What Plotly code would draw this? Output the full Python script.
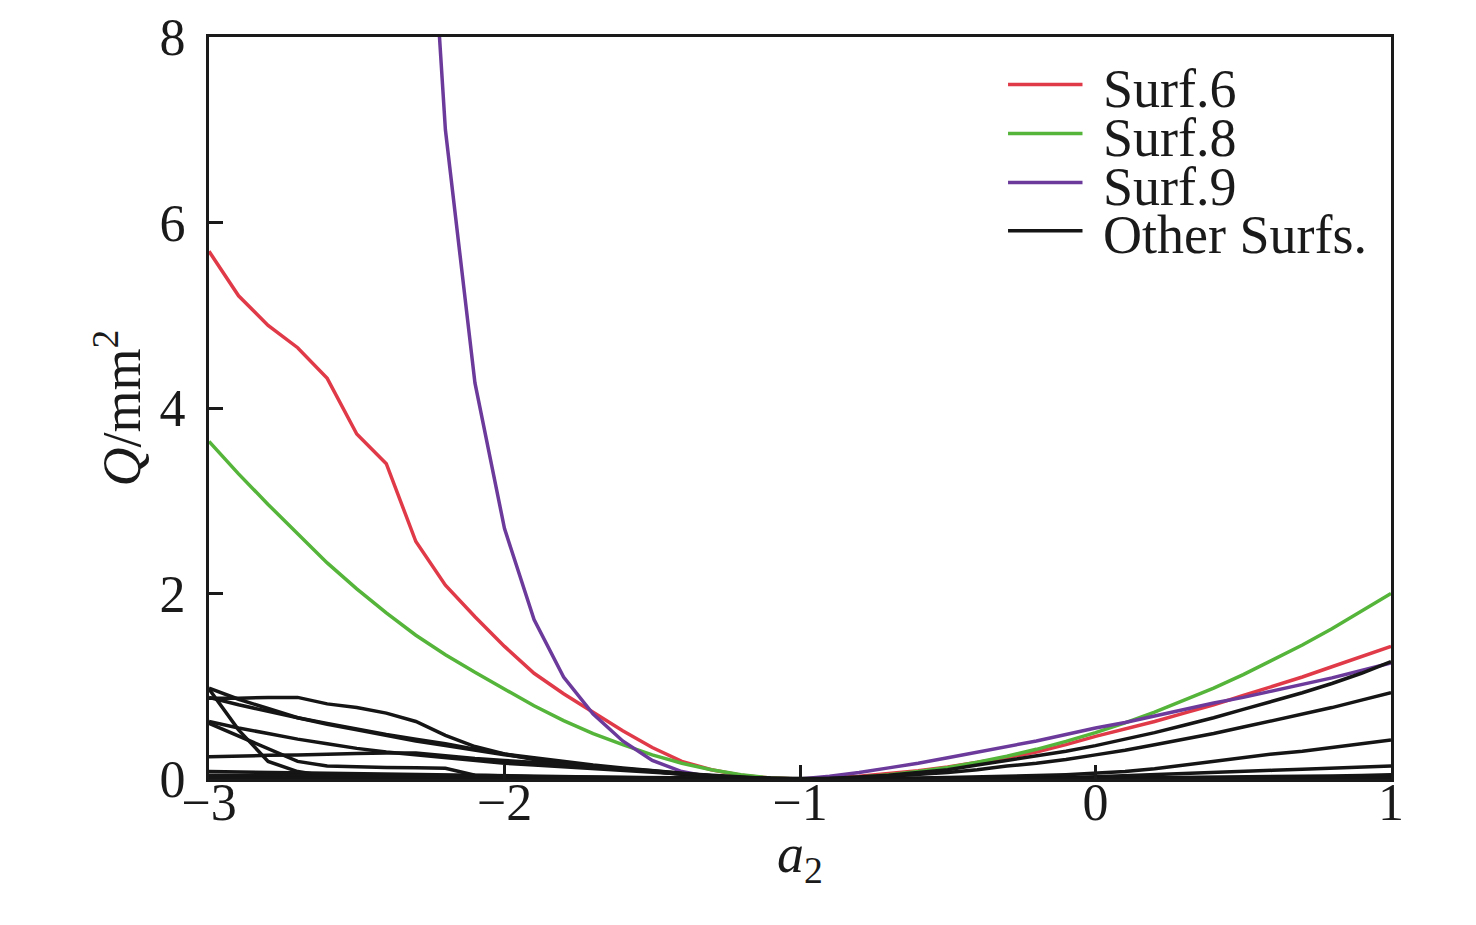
import numpy as np
import plotly.graph_objects as go

# a2 grid, step 0.1 from -3 to 1
a2 = np.round(np.linspace(-3, 1, 41), 1)

surf6 = [5.69, 5.21, 4.89, 4.65, 4.32, 3.72, 3.40, 2.56, 2.09, 1.75,
         1.43, 1.14, 0.92, 0.72, 0.52, 0.34, 0.19, 0.10, 0.04, 0.01,
         0.00, 0.01, 0.03, 0.06, 0.09, 0.13, 0.18, 0.23, 0.29, 0.37,
         0.46, 0.54, 0.62, 0.71, 0.80, 0.90, 1.00, 1.10, 1.21, 1.32, 1.43]
surf8 = [3.64, 3.29, 2.96, 2.64, 2.33, 2.05, 1.79, 1.55, 1.34, 1.15,
         0.97, 0.79, 0.63, 0.49, 0.37, 0.26, 0.17, 0.10, 0.045, 0.01,
         0.00, 0.005, 0.02, 0.045, 0.08, 0.125, 0.18, 0.245, 0.32, 0.405,
         0.50, 0.605, 0.72, 0.845, 0.98, 1.125, 1.28, 1.445, 1.62, 1.805, 2.00]
surf9 = [None, None, None, None, None, None, None, 12.0, 7.00, 4.27,
         2.70, 1.72, 1.10, 0.70, 0.41, 0.20, 0.08, 0.02, 0.005, 0.00,
         0.00, 0.03, 0.07, 0.12, 0.17, 0.23, 0.29, 0.35, 0.41, 0.48,
         0.55, 0.61, 0.68, 0.75, 0.82, 0.88, 0.95, 1.02, 1.09, 1.17, 1.25]

# other surfaces (black)
other = [
    [0.98, 0.86, 0.76, 0.66, 0.60, 0.54, 0.48, 0.43, 0.38, 0.32,
     0.27, 0.23, 0.19, 0.15, 0.12, 0.09, 0.06, 0.035, 0.015, 0.004,
     0.00, 0.005, 0.02, 0.04, 0.07, 0.10, 0.15, 0.20, 0.25, 0.30,
     0.36, 0.43, 0.50, 0.58, 0.66, 0.75, 0.84, 0.93, 1.03, 1.14, 1.265],
    [0.88, 0.80, 0.73, 0.66, 0.59, 0.53, 0.47, 0.41, 0.36, 0.31,
     0.26, 0.22, 0.18, 0.14, 0.11, 0.08, 0.055, 0.03, 0.013, 0.003,
     0.00, 0.003, 0.01, 0.03, 0.05, 0.07, 0.10, 0.14, 0.17, 0.21,
     0.26, 0.31, 0.37, 0.43, 0.49, 0.56, 0.63, 0.70, 0.77, 0.85, 0.93],
    [0.87, 0.87, 0.88, 0.88, 0.81, 0.77, 0.71, 0.62, 0.47, 0.35,
     0.27, 0.21, 0.17, 0.14, 0.11, 0.08, 0.05, 0.03, 0.015, 0.005,
     0.00, 0.001, 0.003, 0.006, 0.01, 0.015, 0.02, 0.028, 0.037, 0.047,
     0.06, 0.08, 0.11, 0.15, 0.19, 0.23, 0.27, 0.30, 0.34, 0.38, 0.42],
    [0.62, 0.55, 0.49, 0.43, 0.38, 0.33, 0.29, 0.26, 0.23, 0.20,
     0.17, 0.15, 0.13, 0.11, 0.09, 0.07, 0.05, 0.03, 0.015, 0.004,
     0.00, 0.00, 0.001, 0.002, 0.003, 0.004, 0.006, 0.008, 0.012, 0.017,
     0.025, 0.035, 0.045, 0.057, 0.07, 0.082, 0.094, 0.106, 0.118, 0.129, 0.14],
    [0.24, 0.25, 0.255, 0.26, 0.27, 0.275, 0.28, 0.28, 0.25, 0.22,
     0.20, 0.18, 0.16, 0.13, 0.11, 0.09, 0.06, 0.04, 0.02, 0.005,
     0.00, 0.00, 0.00, 0.001, 0.001, 0.002, 0.003, 0.004, 0.005, 0.006,
     0.008, 0.01, 0.012, 0.015, 0.018, 0.021, 0.025, 0.029, 0.033, 0.039, 0.045],
    [0.60, 0.46, 0.33, 0.19, 0.14, 0.13, 0.125, 0.12, 0.115, 0.04,
     0.03, 0.025, 0.02, 0.015, 0.01, 0.008, 0.005, 0.003, 0.001, 0.00,
     0.00, 0.00, 0.00, 0.00, 0.001, 0.001, 0.001, 0.002, 0.002, 0.003,
     0.004, 0.005, 0.006, 0.007, 0.008, 0.01, 0.011, 0.013, 0.015, 0.017, 0.02],
    [0.97, 0.53, 0.19, 0.08, 0.03, 0.02, 0.015, 0.01, 0.008, 0.006,
     0.005, 0.004, 0.003, 0.002, 0.001, 0.001, 0.00, 0.00, 0.00, 0.00,
     0.00, 0.00, 0.00, 0.00, 0.00, 0.00, 0.00, 0.00, 0.00, 0.001,
     0.001, 0.001, 0.002, 0.002, 0.003, 0.003, 0.004, 0.004, 0.005, 0.006, 0.007],
    [0.08, 0.075, 0.07, 0.065, 0.06, 0.055, 0.05, 0.045, 0.04, 0.035,
     0.03, 0.025, 0.02, 0.016, 0.012, 0.009, 0.006, 0.004, 0.002, 0.001,
     0.00, 0.00, 0.00, 0.00, 0.00, 0.00, 0.00, 0.00, 0.00, 0.00,
     0.00, 0.00, 0.00, 0.00, 0.00, 0.00, 0.00, 0.00, 0.00, 0.00, 0.00],
    [0.04, 0.038, 0.036, 0.034, 0.032, 0.03, 0.028, 0.026, 0.024, 0.022,
     0.02, 0.018, 0.016, 0.014, 0.012, 0.01, 0.008, 0.006, 0.004, 0.002,
     0.00, 0.00, 0.00, 0.00, 0.00, 0.00, 0.00, 0.00, 0.001, 0.001,
     0.002, 0.002, 0.003, 0.003, 0.004, 0.005, 0.006, 0.007, 0.008, 0.009, 0.01],
    [0.01, 0.01, 0.01, 0.009, 0.009, 0.008, 0.008, 0.007, 0.007, 0.006,
     0.006, 0.005, 0.005, 0.004, 0.004, 0.003, 0.003, 0.002, 0.001, 0.001,
     0.00, 0.00, 0.00, 0.00, 0.00, 0.00, 0.00, 0.00, 0.00, 0.00,
     0.00, 0.001, 0.001, 0.001, 0.001, 0.002, 0.002, 0.002, 0.003, 0.003, 0.003],
]

names = ["Surf.6", "Surf.8", "Surf.9", "Other Surfs."]
colors = ["#E03A48", "#55B43A", "#6B3A9B", "#151515"]

FONT = "Liberation Serif, Times New Roman, serif"

fig = go.Figure()
for ys, c in zip([surf6, surf8, surf9], colors[:3]):
    fig.add_trace(go.Scatter(x=a2, y=ys, mode="lines", showlegend=False,
                             line=dict(color=c, width=3.5)))
for ys in other:
    fig.add_trace(go.Scatter(x=a2, y=ys, mode="lines", showlegend=False,
                             line=dict(color=colors[3], width=3.5)))

# legend drawn by hand so the sample lines and row spacing match the figure
leg_y = [0.936, 0.870, 0.804, 0.739]
for name, c, yy in zip(names, colors, leg_y):
    fig.add_shape(type="line", xref="paper", yref="paper",
                  x0=0.676, x1=0.739, y0=yy, y1=yy,
                  line=dict(color=c, width=3.5))
    fig.add_annotation(xref="paper", yref="paper", x=0.755, y=yy - 0.006,
                       xanchor="left", yanchor="middle", showarrow=False,
                       text=name, font=dict(family=FONT, size=54, color="#1a1a1a"))

# x axis title placed as an annotation (plotly's title sits too low here)
fig.add_annotation(xref="paper", yref="paper", x=0.5, y=-0.106,
                   xanchor="center", yanchor="middle", showarrow=False,
                   text="<i>a</i><sub>2</sub>",
                   font=dict(family=FONT, size=54, color="#1a1a1a"))

axis_common = dict(showline=True, linewidth=3, linecolor="#1a1a1a", mirror=True,
                   ticks="inside", ticklen=14, tickwidth=3, tickcolor="#1a1a1a",
                   showgrid=False, zeroline=False, automargin=False,
                   tickfont=dict(family=FONT, size=52, color="#1a1a1a"))

fig.update_xaxes(range=[-3, 1], tickvals=[-3, -2, -1, 0, 1], ticklabelstandoff=-24,
                 **axis_common)
fig.update_yaxes(range=[0, 8], tickvals=[0, 2, 4, 6, 8], ticklabelstandoff=10,
                 title=dict(text="<i>Q</i>/mm<sup>2</sup>", standoff=2,
                            font=dict(family=FONT, size=54, color="#1a1a1a")),
                 **axis_common)

fig.update_layout(width=1476, height=925,
                  margin=dict(l=201, r=93, t=29, b=154),
                  plot_bgcolor="white", paper_bgcolor="white",
                  showlegend=False)

fig.write_html("out.html")
